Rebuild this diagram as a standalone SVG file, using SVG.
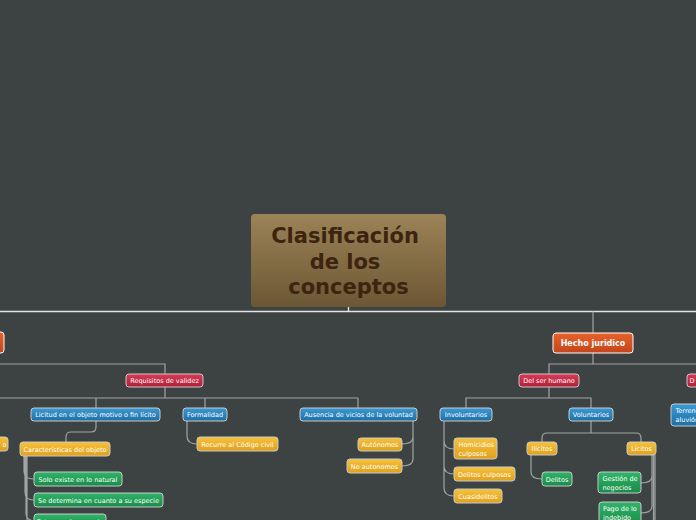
<svg xmlns="http://www.w3.org/2000/svg" width="696" height="520" viewBox="0 0 696 520">
<defs>
<linearGradient id="gRoot" x1="0" y1="0" x2="0" y2="1"><stop offset="0" stop-color="#9c8357"/><stop offset="1" stop-color="#6b5734"/></linearGradient>
<linearGradient id="gOr" x1="0" y1="0" x2="0" y2="1"><stop offset="0" stop-color="#e8622a"/><stop offset="1" stop-color="#c2451a"/></linearGradient>
<linearGradient id="gRed" x1="0" y1="0" x2="0" y2="1"><stop offset="0" stop-color="#d93a55"/><stop offset="1" stop-color="#b31e38"/></linearGradient>
<linearGradient id="gBlue" x1="0" y1="0" x2="0" y2="1"><stop offset="0" stop-color="#3a9ad6"/><stop offset="1" stop-color="#1d6fa4"/></linearGradient>
<linearGradient id="gYel" x1="0" y1="0" x2="0" y2="1"><stop offset="0" stop-color="#f6c23c"/><stop offset="1" stop-color="#e0a11a"/></linearGradient>
<linearGradient id="gGrn" x1="0" y1="0" x2="0" y2="1"><stop offset="0" stop-color="#30b56a"/><stop offset="1" stop-color="#198a47"/></linearGradient>
</defs>
<style>
.c{fill:none;stroke:#a2a4a4;stroke-width:1.2}
.main{fill:none;stroke:#e4e4e4;stroke-width:1.4}
.n{stroke:#c9c9c9;stroke-width:1}
.or{fill:url(#gOr);stroke:#ffffff}
.rd{fill:url(#gRed)}
.bl{fill:url(#gBlue)}
.yl{fill:url(#gYel)}
.gr{fill:url(#gGrn)}
.t{font-family:"DejaVu Sans",Verdana,sans-serif;font-size:6.5px;fill:#ffffff;text-anchor:middle}
.tl{font-family:"DejaVu Sans",Verdana,sans-serif;font-size:6.5px;fill:#ffffff}
.tb{font-family:"DejaVu Sans",Verdana,sans-serif;font-size:8px;font-weight:bold;fill:#ffffff;text-anchor:middle}
.title{font-family:"DejaVu Sans",Verdana,sans-serif;font-size:21px;font-weight:bold;fill:#3d2410;text-anchor:middle}
</style>
<rect x="0" y="0" width="696" height="520" fill="#3d4243"/>

<g id="connectors">
<path class="main" d="M348.5,307 V311.5 M0,311.5 H696"/>
<path class="c" d="M593,311.5 V333"/>
<path class="c" d="M0,364 H165 V374"/>
<path class="c" d="M593,353 V364 M549,374 V364 H696"/>
<path class="c" d="M165,387 V398 M0,398 H358 M96,398 V408 M205,398 V408 M358,398 V408"/>
<path class="c" d="M549,387 V398 M466,408 V398 H591 V408"/>
<path class="c" d="M96,421 V427 Q96,432 91,432 H71 Q66,432 66,437 V442"/>
<path class="c" d="M187,421 V436 Q187,444 197,444"/>
<path class="c" d="M413,421 V437 Q413,444 402,444 M413,421 V459 Q413,466 402,466"/>
<path class="c" d="M24,456 V471 Q24,479 34,479 M25,456 V492 Q25,500 34,500 M26,456 V513 Q26,520 34,521 M27,456 V520"/>
<path class="c" d="M444,421 V441 Q444,449 454,449 M444,421 V466 Q444,474 454,474 M444,421 V488 Q444,496 454,496"/>
<path class="c" d="M591,421 V433 M542,442 V438 Q542,433 547,433 H636 Q641,433 641,438 V442"/>
<path class="c" d="M531,455 V472 Q531,479 542,479"/>
<path class="c" d="M652,455 V476 Q652,483 641,483 M652,455 V506 Q652,513 641,513 M653.5,455 V520 M655,455 V520"/>
</g>

<g id="root">
<rect x="251" y="214" width="195" height="93" rx="4" fill="url(#gRoot)"/>
<text class="title" x="345" y="243">Clasificación</text>
<text class="title" x="345" y="268.5">de los</text>
<text class="title" x="348.5" y="294">conceptos</text>
</g>

<g id="n-left-orange"><rect class="n or" x="-12" y="332" width="16" height="21" rx="3"/></g>
<g id="n-hecho"><rect class="n or" x="553" y="333" width="80" height="20" rx="3"/><text class="tb" x="593" y="346">Hecho juridico</text></g>

<g id="n-requisitos"><rect class="n rd" x="126" y="374" width="77" height="13" rx="3"/><text class="t" x="164.5" y="383">Requisitos de validez</text></g>
<g id="n-delser"><rect class="n rd" x="519" y="374" width="60" height="13" rx="3"/><text class="t" x="549" y="383">Del ser humano</text></g>
<g id="n-right-red"><rect class="n rd" x="687" y="374" width="20" height="13" rx="3"/><text class="tl" x="689.5" y="383">D</text></g>

<g id="n-licitud"><rect class="n bl" x="31" y="408" width="129" height="13" rx="3"/><text class="t" x="95.5" y="417">Licitud en el objeto motivo o fin lícito</text></g>
<g id="n-formalidad"><rect class="n bl" x="183" y="408" width="44" height="13" rx="3"/><text class="t" x="205" y="417">Formalidad</text></g>
<g id="n-ausencia"><rect class="n bl" x="300" y="408" width="117" height="13" rx="3"/><text class="t" x="358.5" y="417">Ausencia de vicios de la voluntad</text></g>
<g id="n-involuntarios"><rect class="n bl" x="440" y="408" width="52" height="13" rx="3"/><text class="t" x="466" y="417">Involuntarios</text></g>
<g id="n-voluntarios"><rect class="n bl" x="569" y="408" width="44" height="13" rx="3"/><text class="t" x="591" y="417">Voluntarios</text></g>
<g id="n-terreno"><rect class="n bl" x="671" y="404" width="40" height="22" rx="3"/><text class="tl" x="675.5" y="413">Terreno</text><text class="tl" x="675.5" y="422">aluvión</text></g>

<g id="n-left-yellow"><rect class="n yl" x="-20" y="437" width="28" height="14" rx="3"/><text class="tl" x="6.5" y="446.5" text-anchor="end">o</text></g>
<g id="n-caracteristicas"><rect class="n yl" x="20" y="442" width="90" height="14" rx="3"/><text class="t" x="65" y="451.5">Características del objeto</text></g>
<g id="n-recurre"><rect class="n yl" x="197" y="437" width="81" height="14" rx="3"/><text class="t" x="237.5" y="446.5">Recurre al Código civil</text></g>
<g id="n-autonomos"><rect class="n yl" x="358" y="438" width="44" height="13" rx="3"/><text class="t" x="380" y="447">Autónomos</text></g>
<g id="n-noautonomos"><rect class="n yl" x="347" y="459" width="55" height="14" rx="3"/><text class="t" x="374.5" y="468.5">No autonomos</text></g>
<g id="n-homicidios"><rect class="n yl" x="454" y="438" width="43" height="21" rx="3"/><text class="tl" x="458.5" y="447">Homicidios</text><text class="tl" x="458.5" y="455.5">culposos</text></g>
<g id="n-delitosculposos"><rect class="n yl" x="454" y="467" width="61" height="14" rx="3"/><text class="t" x="484.5" y="476.5">Delitos culposos</text></g>
<g id="n-cuasidelitos"><rect class="n yl" x="454" y="489" width="48" height="14" rx="3"/><text class="t" x="478" y="498.5">Cuasidelitos</text></g>
<g id="n-ilicitos"><rect class="n yl" x="527" y="442" width="30" height="13" rx="3"/><text class="t" x="542" y="451">Ilícitos</text></g>
<g id="n-licitos"><rect class="n yl" x="627" y="442" width="29" height="13" rx="3"/><text class="t" x="641.5" y="451">Lícitos</text></g>

<g id="n-solo"><rect class="n gr" x="34" y="472" width="88" height="14" rx="3"/><text class="t" x="78" y="481.5">Solo existe en lo natural</text></g>
<g id="n-determina"><rect class="n gr" x="34" y="493" width="129" height="14" rx="3"/><text class="t" x="98.5" y="502.5">Se determina en cuanto a su especie</text></g>
<g id="n-estar"><rect class="n gr" x="34" y="514" width="72" height="14" rx="3"/><text class="t" x="70" y="523.5">Estar en el comercio</text></g>
<g id="n-delitos"><rect class="n gr" x="542" y="472" width="30" height="14" rx="3"/><text class="t" x="557" y="481.5">Delitos</text></g>
<g id="n-gestion"><rect class="n gr" x="598" y="472" width="43" height="21" rx="3"/><text class="tl" x="602.5" y="481">Gestión de</text><text class="tl" x="602.5" y="489.5">negocios</text></g>
<g id="n-pago"><rect class="n gr" x="599" y="502" width="42" height="24" rx="3"/><text class="tl" x="603" y="511">Pago de lo</text><text class="tl" x="603" y="519.5">indebido</text></g>
</svg>
